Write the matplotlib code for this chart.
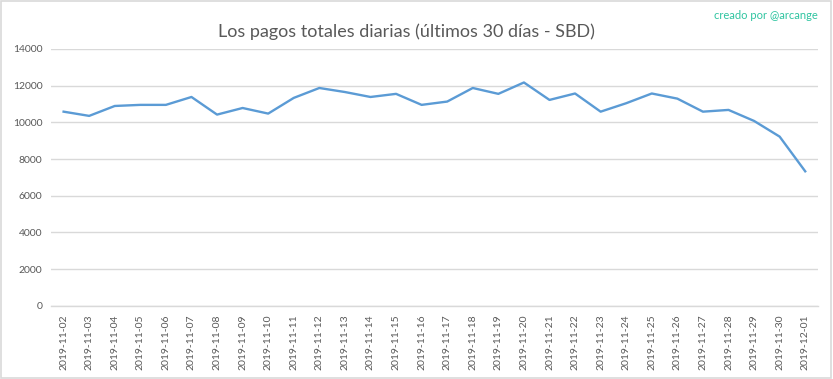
"""
Daily total payouts, last 30 days (SBD)
"""
import matplotlib.pyplot as plt
from matplotlib.patches import Rectangle

plt.rcParams['font.family'] = ['Lato', 'DejaVu Sans']

fechas = [
    '2019-11-02', '2019-11-03', '2019-11-04', '2019-11-05', '2019-11-06',
    '2019-11-07', '2019-11-08', '2019-11-09', '2019-11-10', '2019-11-11',
    '2019-11-12', '2019-11-13', '2019-11-14', '2019-11-15', '2019-11-16',
    '2019-11-17', '2019-11-18', '2019-11-19', '2019-11-20', '2019-11-21',
    '2019-11-22', '2019-11-23', '2019-11-24', '2019-11-25', '2019-11-26',
    '2019-11-27', '2019-11-28', '2019-11-29', '2019-11-30', '2019-12-01',
]
pagos_sbd = [
    10580, 10350, 10890, 10950, 10950, 11380, 10420, 10780, 10475, 11330,
    11870, 11650, 11380, 11550, 10950, 11130, 11870, 11550, 12170, 11220,
    11570, 10580, 11040, 11570, 11290, 10580, 10675, 10075, 9220, 7330,
]
yticks = [0, 2000, 4000, 6000, 8000, 10000, 12000, 14000]

GRAY_TEXT = '#595959'
GRID = '#d9d9d9'


def create_figure():
    fig = plt.figure(figsize=(8.33, 3.79), dpi=100)
    fig.patches.append(Rectangle((0.001, 0.002), 0.997, 0.995, transform=fig.transFigure,
                                 fill=False, edgecolor=GRID, linewidth=1.2))
    ax = fig.add_axes([0.061, 0.193, 0.921, 0.678])

    x = range(len(fechas))
    ax.plot(x, pagos_sbd, color='#5b9bd5', linewidth=1.7)

    ax.set_xlim(-0.5, len(fechas) - 0.5)
    ax.set_ylim(0, 14000)
    ax.set_yticks(yticks)
    ax.set_yticklabels([str(v) for v in yticks])
    ax.set_xticks(list(x))
    ax.set_xticklabels(fechas, rotation=90)
    ax.tick_params(axis='both', length=0, labelsize=7.5, colors=GRAY_TEXT)
    ax.tick_params(axis='x', pad=6)
    ax.tick_params(axis='y', pad=6)

    ax.grid(axis='y', color=GRID, linewidth=1)
    ax.set_axisbelow(True)
    for side in ['top', 'right', 'left']:
        ax.spines[side].set_visible(False)
    ax.spines['bottom'].set_color(GRID)
    ax.spines['bottom'].set_linewidth(1)

    fig.text(0.488, 0.915, 'Los pagos totales diarias (últimos 30 días - SBD)',
             ha='center', va='center', fontsize=13, color=GRAY_TEXT)
    fig.text(0.982, 0.96, 'creado por @arcange', ha='right', va='center',
             fontsize=8, color='#2ec4a0')

    fig.savefig('out.png', dpi=100)
    plt.close(fig)


if __name__ == "__main__":
    create_figure()
